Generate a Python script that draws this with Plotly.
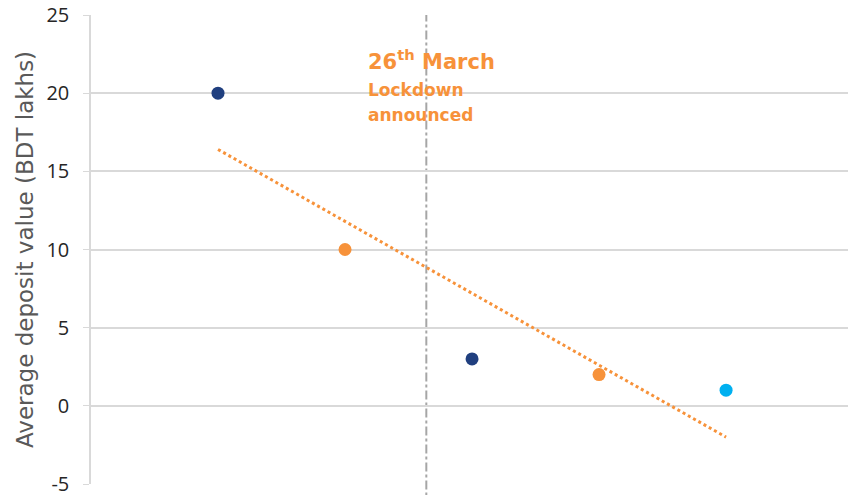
import numpy as np
import plotly.graph_objects as go

# Average deposit value by period (BDT lakhs)
periods = [1, 2, 3, 4, 5]
values = [20, 10, 3, 2, 1]
colors = ["#203F7F", "#F7923A", "#203F7F", "#F7923A", "#00B0F0"]

y_ticks = [-5, 0, 5, 10, 15, 20, 25]
y_tick_text = ["-5", "0", "5", "10", "15", "20", "25"]
lockdown_x = 2.64

# Linear trend through the points
slope, intercept = np.polyfit(periods, values, 1)
trend_x = [periods[0], periods[-1]]
trend_y = [slope * x + intercept for x in trend_x]

fig = go.Figure()

fig.add_trace(go.Scatter(
    x=trend_x, y=trend_y, mode="lines",
    line=dict(color="#F7923A", width=3, dash="dot"),
    hoverinfo="skip", showlegend=False,
))

fig.add_trace(go.Scatter(
    x=periods, y=values, mode="markers",
    marker=dict(color=colors, size=13, line=dict(width=0)),
    showlegend=False,
))

# Lockdown marker line
fig.add_shape(
    type="line", xref="x", yref="paper",
    x0=lockdown_x, x1=lockdown_x, y0=-0.05, y1=1.0,
    line=dict(color="#A6A6A6", width=2, dash="dashdot"),
    layer="below",
)

fig.add_annotation(
    x=2.165, y=22.1, xref="x", yref="y", xanchor="left", yanchor="middle",
    text="<b>26<sup>th</sup> March</b>", showarrow=False,
    font=dict(family="DejaVu Sans", size=21, color="#F7923A"),
)
fig.add_annotation(
    x=2.165, y=20.2, xref="x", yref="y", xanchor="left", yanchor="middle",
    text="<b>Lockdown</b>", showarrow=False,
    font=dict(family="DejaVu Sans", size=17, color="#F7923A"),
)
fig.add_annotation(
    x=2.165, y=18.6, xref="x", yref="y", xanchor="left", yanchor="middle",
    text="<b>announced</b>", showarrow=False,
    font=dict(family="DejaVu Sans", size=17, color="#F7923A"),
)

fig.update_layout(
    width=848, height=495,
    margin=dict(l=91, r=0, t=15, b=11),
    paper_bgcolor="white", plot_bgcolor="white",
    font=dict(family="Open Sans", color="#404040"),
    xaxis=dict(
        range=[0, 5.96], showticklabels=False, showgrid=False,
        zeroline=False, showline=False, ticks="", automargin=False,
    ),
    yaxis=dict(
        range=[-5, 25], tickvals=y_ticks, ticktext=y_tick_text,
        automargin=False,
        showgrid=True, gridcolor="#D9D9D9", gridwidth=1.5,
        zeroline=False, showline=True, linecolor="#D9D9D9", linewidth=1.5,
        ticks="outside", ticklen=6, tickcolor="#D9D9D9",
        ticklabelstandoff=10, ticklabeloverflow="allow",
        tickfont=dict(size=20, color="#262626"),
        title=dict(text="Average deposit value (BDT lakhs)",
                   font=dict(family="DejaVu Sans", size=23, color="#595959"),
                   standoff=6),
    ),
)

fig.write_html("out.html")
